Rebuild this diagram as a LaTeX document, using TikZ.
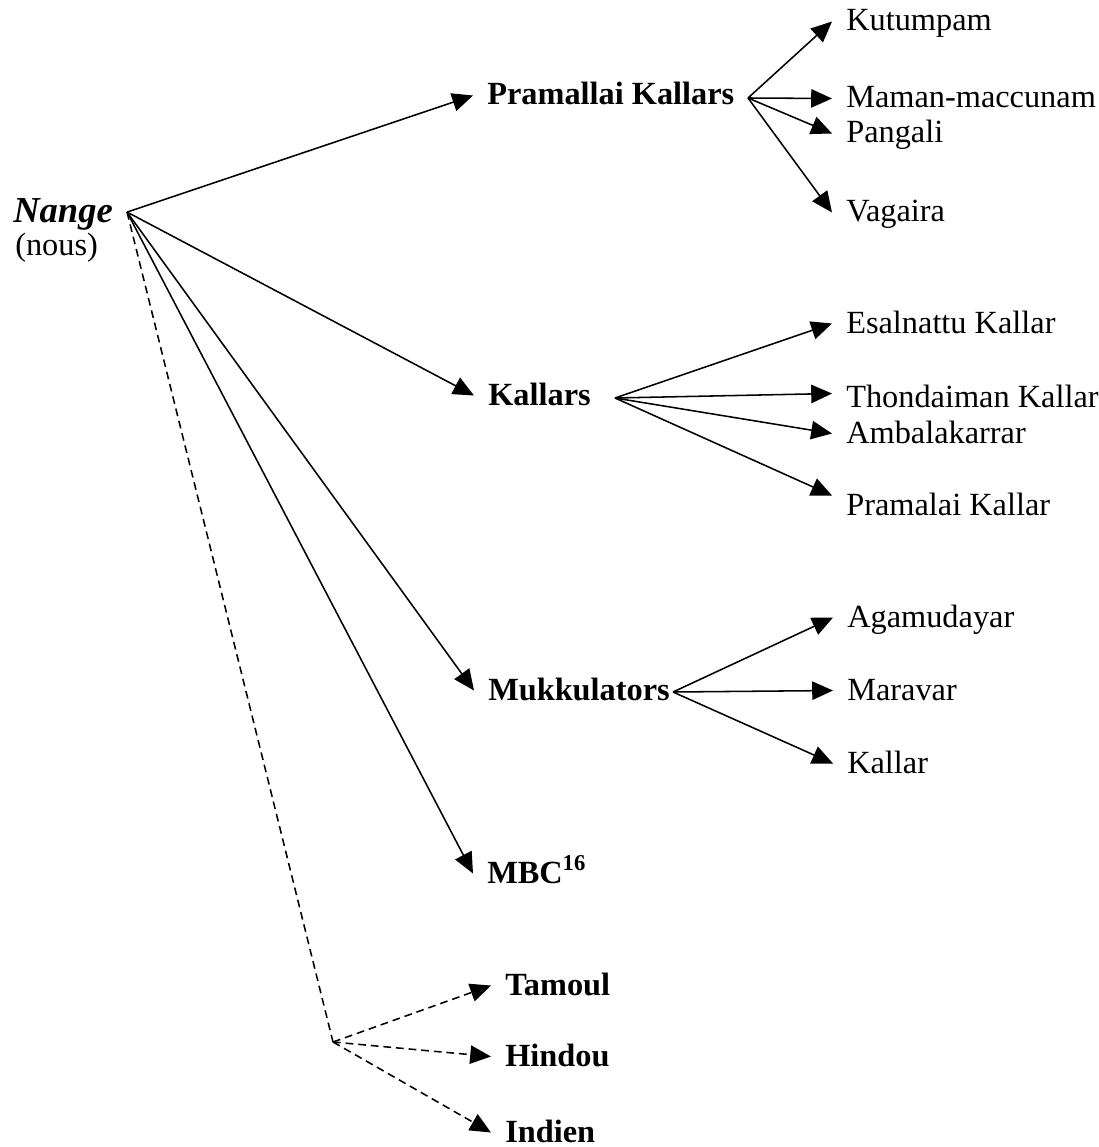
\documentclass[tikz,border=0pt]{standalone}
\usepackage{fontspec}
\setmainfont{Liberation Serif}
\usetikzlibrary{arrows.meta}

\begin{document}
\begin{tikzpicture}
		[n/.style= {anchor=base west,inner xsep=0.35cm,inner ysep=0pt,text height=17pt,text depth=3.5pt,font=\fontsize{23}{28}\selectfont},
		 g/.style= {n,font=\fontsize{23}{28}\selectfont\bfseries},
		 arr/.style= {line width=1.1pt,-{Triangle[length=0.52cm,width=0.46cm]}},
		 dl/.style= {line width=1.1pt,dash pattern=on 5.5pt off 3.5pt},
		 dsh/.style= {dl,-{Triangle[length=0.52cm,width=0.46cm]}}]

		\useasboundingbox (0,0) rectangle (27.45,-28.675);

		% root
		\node[n,text height=19.5pt,text depth=4pt,font=\fontsize{26}{30}\selectfont\bfseries\itshape] (nange) at (-0.025,-5.575) {Nange}
		;
		\node[n] (nous) at (0.025,-6.4) {(nous)}
		;

		% groups
		\node[g] (pk) at (11.825,-2.625) {Pramallai Kallars}
		;
		\node[g] (kl) at (11.85,-10.125) {Kallars}
		;
		\node[g] (mk) at (11.85,-17.5) {Mukkulators}
		;
		\node[g] (mbc) at (11.825,-22.075) {MBC\textsuperscript{16}}
		;
		\node[g] (ta) at (12.275,-24.875) {Tamoul}
		;
		\node[g] (hi) at (12.275,-26.65) {Hindou}
		;
		\node[g] (in) at (12.275,-28.55) {Indien}
		;

		% forks
		\coordinate (pkf) at (18.7,-2.45);
		\coordinate (klf) at (15.375,-9.95);
		\coordinate (mkf) at (16.825,-17.3);
		\coordinate (dsf) at (8.325,-26.05);

		% Pramallai Kallars
		\node[n] (kt) at (20.8,-0.775) {Kutumpam}
		;
		\node[n] (mm) at (20.8,-2.7) {Maman-maccunam}
		;
		\node[n] (pa) at (20.8,-3.575) {Pangali}
		;
		\node[n] (va) at (20.8,-5.55) {Vagaira}
		;

		% Kallars
		\node[n] (es) at (20.8,-8.325) {Esalnattu Kallar}
		;
		\node[n] (th) at (20.8,-10.175) {Thondaiman Kallar}
		;
		\node[n] (am) at (20.8,-11.075) {Ambalakarrar}
		;
		\node[n] (pm) at (20.8,-12.875) {Pramalai Kallar}
		;

		% Mukkulators
		\node[n] (ag) at (20.825,-15.675) {Agamudayar}
		;
		\node[n] (ma) at (20.825,-17.5) {Maravar}
		;
		\node[n] (ka) at (20.825,-19.325) {Kallar}
		;

		\path (nange.east)
			edge [arr]	(pk.west)
			edge [arr]	(kl.west)
			edge [arr]	(mk.west)
			edge [arr]	(mbc.west)
			edge [dl]	(dsf)
		;

		\path (pkf)
			edge [arr]	(kt.west)
			edge [arr]	(mm.west)
			edge [arr]	(pa.west)
			edge [arr]	(va.west)
		;

		\path (klf)
			edge [arr]	(es.west)
			edge [arr]	([yshift=0.1cm]th.west)
			edge [arr]	(am.west)
			edge [arr]	([yshift=0.25cm]pm.west)
		;

		\path (mkf)
			edge [arr]	(ag.west)
			edge [arr]	(ma.west)
			edge [arr]	(ka.west)
		;

		\path (dsf)
			edge [dsh]	(ta.west)
			edge [dsh]	(hi.west)
			edge [dsh]	(in.west)
		;

	\end{tikzpicture}
\end{document}
